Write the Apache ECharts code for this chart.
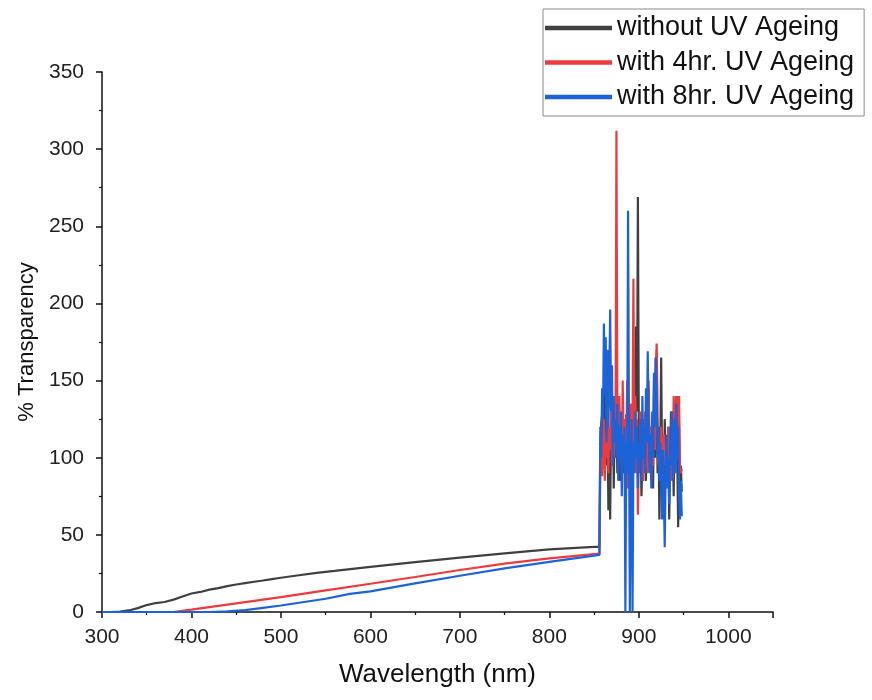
<!DOCTYPE html>
<html>
<head>
<meta charset="utf-8">
<script src="https://cdn.jsdelivr.net/npm/echarts@6/dist/echarts.min.js"></script>
<style>
html,body{margin:0;padding:0;background:#fff;}
#chart{width:872px;height:700px;}
</style>
</head>
<body>
<div id="chart"></div>
<script>
// ---- Data ----
var seriesNames = ['without UV Ageing', 'with 4hr. UV Ageing', 'with 8hr. UV Ageing'];
var xTicks = [300, 400, 500, 600, 700, 800, 900, 1000];
var yTicks = [0, 50, 100, 150, 200, 250, 300, 350];

// smooth region (nm / %)
var blackSmoothX = [300,310,320,330,340,350,360,370,380,390,400,410,420,430,440,450,460,470,480,490,500,520,540,560,580,600,650,700,750,800,850,856];
var blackSmoothY = [0,0,0.3,1,2.5,4.5,5.8,6.5,8,10,12,13,14.5,15.5,16.8,17.8,18.7,19.6,20.4,21.3,22.2,23.8,25.3,26.6,28,29.3,32.3,35.3,38,40.6,42.2,42.2];
var redSmoothX = [300,380,400,420,450,500,550,600,650,700,750,800,856];
var redSmoothY = [0,0,1.5,3.2,5.6,9.6,14,18.3,22.7,27.2,31.3,34.7,37.8];
var blueSmoothX = [300,420,440,460,484,500,550,577,600,650,700,750,800,856];
var blueSmoothY = [0,0,0.5,1.2,3,4.2,8.6,11.7,13.4,18.5,23.5,28.3,32.5,37];

// noisy region, 857..948 nm in 1 nm steps
var noiseStart = 857;
var blackNoise = [110,122,128,100,140,118,150,95,130,66,110,60,125,95,140,80,120,100,135,90,112,140,85,120,100,130,90,115,105,128,95,110,85,120,100,135,90,115,150,100,185,130,269,120,90,110,75,100,125,95,110,85,130,100,145,95,120,90,110,80,150,100,165,130,90,120,60,100,165,95,110,80,125,95,105,85,120,60,100,130,90,115,75,125,95,140,100,55,120,80,95,78];
var redNoise = [95,120,88,110,125,85,115,100,140,90,120,105,130,95,115,100,125,110,312,130,95,140,100,120,90,150,110,95,125,105,150,80,120,100,135,95,120,216,110,140,90,125,63,110,95,130,100,120,85,110,130,95,105,90,150,100,120,85,110,95,140,105,160,174,130,95,110,85,120,100,90,115,95,110,85,100,120,95,110,85,130,100,140,115,90,125,140,100,140,95,90,93];
var blueNoise = [120,100,145,125,187,140,178,110,170,120,150,196,130,160,95,140,110,125,100,135,85,120,100,130,75,115,95,120,0,110,90,260,120,0,100,125,0,110,90,130,100,120,80,110,95,125,85,140,100,120,90,145,110,169,120,90,115,80,130,100,155,120,165,140,100,120,85,110,95,60,105,75,42,90,115,80,100,70,120,95,130,85,110,125,90,135,100,120,75,60,85,62];

function build(sx, sy, noise) {
  var out = [];
  for (var i = 0; i < sx.length; i++) out.push([sx[i], sy[i]]);
  for (var j = 0; j < noise.length; j++) out.push([noiseStart + j, noise[j]]);
  return out;
}

var colors = ['#404040', '#ee3a3d', '#1c63da'];
var chart = echarts.init(document.getElementById('chart'), null, {renderer: 'canvas'});
var font = 'Liberation Sans, Arial, Helvetica, sans-serif';

chart.setOption({
  animation: false,
  backgroundColor: '#ffffff',
  color: colors,
  grid: {left: 102, right: 99, top: 72, bottom: 88, containLabel: false},
  legend: {
    orient: 'vertical',
    left: 543, top: 9,
    padding: [5.5, 10, 5.5, 2],
    itemGap: 7.5,
    itemWidth: 67, itemHeight: 4.5,
    icon: 'rect',
    borderColor: '#8a8a8a', borderWidth: 1,
    textStyle: {fontFamily: font, fontSize: 27, color: '#111'},
    data: seriesNames
  },
  xAxis: {
    type: 'value', min: 300, max: 1050, interval: 100,
    name: 'Wavelength (nm)', nameLocation: 'middle', nameGap: 50,
    nameTextStyle: {fontFamily: font, fontSize: 26, color: '#111'},
    axisLine: {show: true, lineStyle: {color: '#111', width: 1.5}},
    axisTick: {show: true, length: 6, lineStyle: {color: '#111', width: 1.5}},
    minorTick: {show: true, splitNumber: 2, length: 3, lineStyle: {color: '#111', width: 1.2}},
    axisLabel: {fontFamily: font, fontSize: 21, color: '#222', margin: 15, showMaxLabel: false,
      formatter: function (v) { return xTicks.indexOf(v) >= 0 ? String(v) : ''; }},
    splitLine: {show: false}
  },
  yAxis: {
    type: 'value', min: 0, max: 350, interval: 50,
    name: '% Transparency', nameLocation: 'middle', nameGap: 62,
    nameTextStyle: {fontFamily: font, fontSize: 22, color: '#111'},
    axisLine: {show: true, lineStyle: {color: '#111', width: 1.5}},
    axisTick: {show: true, length: 6, lineStyle: {color: '#111', width: 1.5}},
    minorTick: {show: true, splitNumber: 2, length: 3, lineStyle: {color: '#111', width: 1.2}},
    axisLabel: {fontFamily: font, fontSize: 21, color: '#222', margin: 18,
      formatter: function (v) { return yTicks.indexOf(v) >= 0 ? String(v) : ''; }},
    splitLine: {show: false}
  },
  series: [
    {name: seriesNames[0], type: 'line', showSymbol: false, symbol: 'none', lineStyle: {width: 2.2, color: colors[0]},
     data: build(blackSmoothX, blackSmoothY, blackNoise)},
    {name: seriesNames[1], type: 'line', showSymbol: false, symbol: 'none', lineStyle: {width: 2.2, color: colors[1]},
     data: build(redSmoothX, redSmoothY, redNoise)},
    {name: seriesNames[2], type: 'line', showSymbol: false, symbol: 'none', lineStyle: {width: 2.2, color: colors[2]},
     data: build(blueSmoothX, blueSmoothY, blueNoise)}
  ]
});
</script>
</body>
</html>
